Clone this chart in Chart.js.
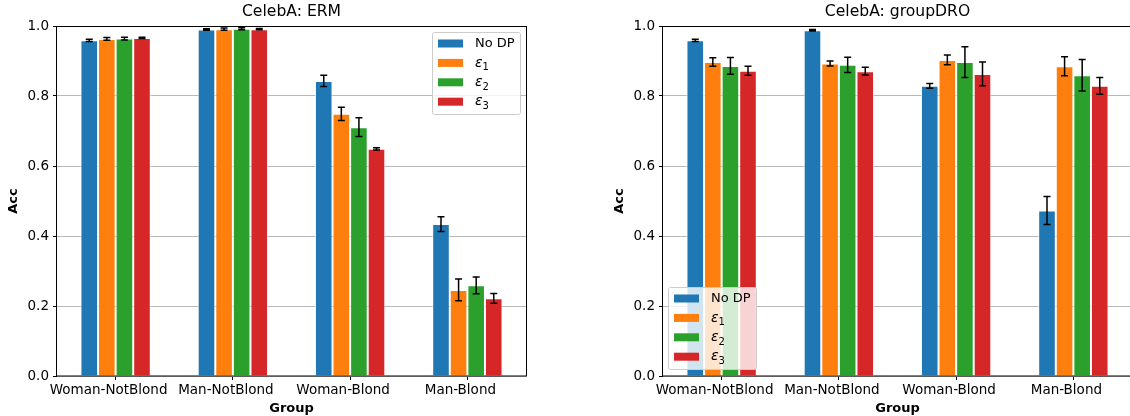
<!DOCTYPE html>
<html>
<head>
<meta charset="utf-8">
<script src="https://cdn.jsdelivr.net/npm/chart.js@4.4.1/dist/chart.umd.min.js"></script>
<style>
  html, body { margin: 0; padding: 0; background: #fff; overflow: hidden; width: 1130px; height: 416px; position: relative; }
  .panel { position: absolute; top: 0; width: 540px; height: 416px; }
</style>
</head>
<body>
<div class="panel" style="left:0"><canvas id="erm" width="540" height="416"></canvas></div>
<div class="panel" style="left:606px"><canvas id="dro" width="540" height="416"></canvas></div>
<script>
const groups = ['Woman-NotBlond', 'Man-NotBlond', 'Woman-Blond', 'Man-Blond'];
const seriesNames = ['No DP', 'ε₁', 'ε₂', 'ε₃'];
const yTicks = [0, 0.2, 0.4, 0.6, 0.8, 1.0];

// CelebA: ERM
const ermNoDp = [0.959, 0.990, 0.843, 0.434];
const ermEps1 = [0.963, 0.991, 0.749, 0.246];
const ermEps2 = [0.964, 0.992, 0.711, 0.259];
const ermEps3 = [0.966, 0.991, 0.649, 0.222];
const ermNoDpErr = [0.003, 0.002, 0.016, 0.021];
const ermEps1Err = [0.004, 0.003, 0.019, 0.031];
const ermEps2Err = [0.004, 0.003, 0.027, 0.024];
const ermEps3Err = [0.002, 0.002, 0.003, 0.014];

// CelebA: groupDRO
const droNoDp = [0.959, 0.988, 0.829, 0.473];
const droEps1 = [0.897, 0.893, 0.903, 0.885];
const droEps2 = [0.886, 0.889, 0.897, 0.859];
const droEps3 = [0.872, 0.871, 0.863, 0.829];
const droNoDpErr = [0.003, 0.002, 0.007, 0.040];
const droEps1Err = [0.012, 0.007, 0.014, 0.027];
const droEps2Err = [0.024, 0.022, 0.044, 0.045];
const droEps3Err = [0.013, 0.011, 0.034, 0.024];

const colors = ['#1f77b4', '#ff7f0e', '#2ca02c', '#d62728'];
const FONT = 'DejaVu Sans';

Chart.defaults.font.family = FONT;
Chart.defaults.color = '#000';

// subscript digits drawn as small lowered text, like mathtext
const SUBS = { '₁': '1', '₂': '2', '₃': '3' };

// error bars, spines, title and the boxed legend
const panelDecor = {
  id: 'panelDecor',
  afterDatasetsDraw(chart, args, opts) {
    const ctx = chart.ctx;
    const y = chart.scales.y;
    const a = chart.chartArea;
    ctx.save();

    ctx.strokeStyle = '#000';
    ctx.lineWidth = 1.5;
    chart.data.datasets.forEach((ds, i) => {
      chart.getDatasetMeta(i).data.forEach((bar, j) => {
        const top = y.getPixelForValue(ds.data[j] + ds.errors[j]);
        const bot = y.getPixelForValue(ds.data[j] - ds.errors[j]);
        ctx.beginPath();
        ctx.moveTo(bar.x, top); ctx.lineTo(bar.x, bot);
        ctx.moveTo(bar.x - 3.5, top); ctx.lineTo(bar.x + 3.5, top);
        ctx.moveTo(bar.x - 3.5, bot); ctx.lineTo(bar.x + 3.5, bot);
        ctx.stroke();
      });
    });

    // spines
    ctx.lineWidth = 1;
    ctx.strokeRect(Math.round(a.left) - 0.5, Math.round(a.top) + 0.5,
      Math.round(a.width) + 1, Math.round(a.height) - 0.5);

    // title
    ctx.fillStyle = '#000';
    ctx.font = '15.6px ' + FONT;
    ctx.textAlign = 'center';
    ctx.textBaseline = 'middle';
    ctx.fillText(opts.title, (a.left + a.right) / 2, 12);

    // legend
    const w = 88, h = 82;
    const bx = opts.corner === 'topRight' ? a.right - 6 - w : a.left + 5;
    const by = opts.corner === 'topRight' ? a.top + 6 : a.bottom - 7 - h;
    ctx.beginPath();
    ctx.roundRect(bx + 0.5, by + 0.5, w, h, 2);
    ctx.fillStyle = 'rgba(255,255,255,0.8)';
    ctx.fill();
    ctx.strokeStyle = '#cccccc';
    ctx.stroke();
    ctx.textAlign = 'left';
    chart.data.datasets.forEach((ds, i) => {
      const cy = by + 11.5 + i * 19.4;
      ctx.fillStyle = ds.backgroundColor;
      ctx.fillRect(bx + 6, cy - 4, 25, 8);
      ctx.fillStyle = '#000';
      const sub = SUBS[ds.label.slice(-1)];
      if (sub) {
        ctx.font = 'italic 14px ' + FONT;
        const base = ds.label.slice(0, -1);
        ctx.fillText(base, bx + 43, cy);
        const bw = ctx.measureText(base).width;
        ctx.font = '10px ' + FONT;
        ctx.fillText(sub, bx + 43 + bw, cy + 5);
      } else {
        ctx.font = '13px ' + FONT;
        ctx.fillText(ds.label, bx + 43, cy);
      }
    });
    ctx.restore();
  }
};

function makeChart(id, title, series, errors, corner) {
  return new Chart(document.getElementById(id), {
    type: 'bar',
    data: {
      labels: groups,
      datasets: series.map((vals, i) => ({
        label: seriesNames[i],
        data: vals,
        errors: errors[i],
        backgroundColor: colors[i],
        borderColor: 'rgba(255,255,255,0.75)',
        borderWidth: 1,
        categoryPercentage: 0.6,
        barPercentage: 1.0
      }))
    },
    options: {
      responsive: false,
      animation: false,
      devicePixelRatio: 1,
      layout: { padding: { top: 26, right: 14, left: 0, bottom: 0 } },
      plugins: {
        legend: { display: false },
        tooltip: { enabled: false },
        panelDecor: { title: title, corner: corner }
      },
      scales: {
        x: {
          offset: true,
          border: { display: false },
          grid: { drawOnChartArea: false, drawTicks: true, tickLength: 4, tickColor: '#000', offset: false },
          ticks: { font: { size: 13.5 }, padding: 2, maxRotation: 0, autoSkip: false, labelOffset: -7 },
          title: { display: true, text: 'Group', font: { size: 13, weight: 'bold' }, padding: { top: 0, bottom: 0 } },
          afterFit: s => { s.height = 40; }
        },
        y: {
          min: 0,
          max: 1,
          afterBuildTicks: s => { s.ticks = yTicks.map(v => ({ value: v })); },
          border: { display: false },
          grid: { color: '#b8b8b8', lineWidth: 1, tickColor: '#000', tickLength: 4 },
          ticks: { font: { size: 13.5 }, padding: 4, callback: v => v.toFixed(1) },
          title: { display: true, text: 'Acc', font: { size: 13, weight: 'bold' }, padding: { top: 6, bottom: 0 } },
          afterFit: s => { s.width = 57; }
        }
      }
    },
    plugins: [panelDecor]
  });
}

makeChart('erm', 'CelebA: ERM',
  [ermNoDp, ermEps1, ermEps2, ermEps3],
  [ermNoDpErr, ermEps1Err, ermEps2Err, ermEps3Err], 'topRight');
makeChart('dro', 'CelebA: groupDRO',
  [droNoDp, droEps1, droEps2, droEps3],
  [droNoDpErr, droEps1Err, droEps2Err, droEps3Err], 'bottomLeft');
</script>
</body>
</html>
